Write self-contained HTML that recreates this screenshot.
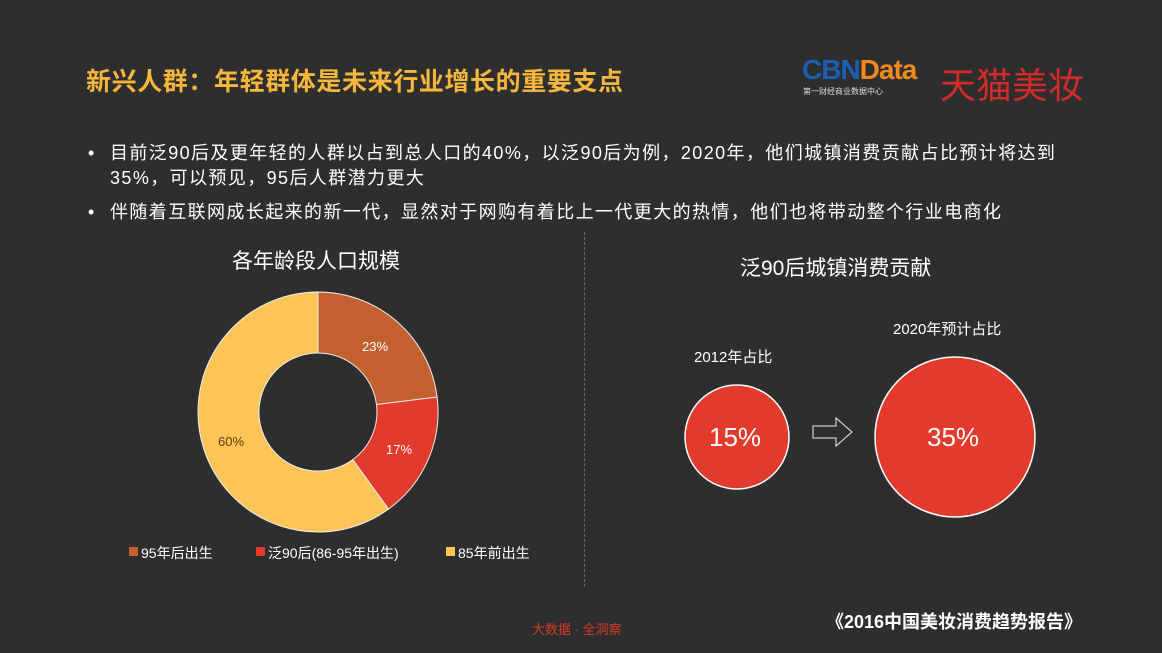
<!DOCTYPE html>
<html><head><meta charset="utf-8"><style>
body{margin:0;width:1162px;height:653px;background:#2e2e2e;font-family:"Liberation Sans","Noto Sans CJK SC",sans-serif;position:relative;overflow:hidden;color:#fff}
.a{position:absolute;white-space:nowrap}
</style></head><body>
<div class="a" style="left:86px;top:62px;font-size:25px;font-weight:bold;color:#f6b73c;letter-spacing:0.6px">新兴人群：年轻群体是未来行业增长的重要支点</div>
<div class="a" style="left:802px;top:54px;font-size:28px;font-weight:bold;letter-spacing:-1px"><span style="color:#1a5fb4">CBN</span><span style="color:#f08a1c">Data</span></div>
<div class="a" style="left:803px;top:86px;font-size:8px;color:#ddd">第一财经商业数据中心</div>
<div class="a" style="left:940px;top:57px;font-size:36px;color:#d42a2a">天猫美妆</div>
<div class="a" style="left:88px;top:141px;font-size:18px;line-height:25px;color:#fff">•</div>
<div class="a" style="left:110px;top:141px;font-size:18px;line-height:25px;letter-spacing:1.4px">目前泛90后及更年轻的人群以占到总人口的40%，以泛90后为例，2020年，他们城镇消费贡献占比预计将达到<br>35%，可以预见，95后人群潜力更大</div>
<div class="a" style="left:88px;top:200px;font-size:18px;line-height:25px">•</div>
<div class="a" style="left:110px;top:200px;font-size:18px;line-height:25px;letter-spacing:1.4px">伴随着互联网成长起来的新一代，显然对于网购有着比上一代更大的热情，他们也将带动整个行业电商化</div>
<div class="a" style="left:232px;top:245px;font-size:21px">各年龄段人口规模</div>
<div class="a" style="left:740px;top:252px;font-size:21px">泛90后城镇消费贡献</div>
<div style="position:absolute;left:584px;top:232px;height:355px;border-left:1px dashed #666"></div>
<svg class="a" style="left:0;top:0" width="1162" height="653">
<path d="M318 292 A120 120 0 0 1 437.1 397 L376.5 404.6 A59 59 0 0 0 318 353 Z" fill="#c45f30" stroke="#eee" stroke-width="1"/>
<path d="M437.1 397 A120 120 0 0 1 388.5 509.1 L352.7 459.7 A59 59 0 0 0 376.5 404.6 Z" fill="#e23a2c" stroke="#eee" stroke-width="1"/>
<path d="M388.5 509.1 A120 120 0 1 1 318 292 L318 353 A59 59 0 1 0 352.7 459.7 Z" fill="#fdc457" stroke="#eee" stroke-width="1"/>
<text x="362" y="351" fill="#fff" font-size="13" font-family="Liberation Sans">23%</text>
<text x="386" y="454" fill="#fff" font-size="13" font-family="Liberation Sans">17%</text>
<text x="218" y="446" fill="#5a3a10" font-size="13" font-family="Liberation Sans">60%</text>
<circle cx="737" cy="437" r="52" fill="#e23a2c" stroke="#fff" stroke-width="1.5"/>
<circle cx="955" cy="437" r="80" fill="#e23a2c" stroke="#fff" stroke-width="1.5"/>
<path d="M813 426 L836 426 L836 418 L852 432 L836 446 L836 438 L813 438 Z" fill="none" stroke="#ccc" stroke-width="1.2"/>
<rect x="129" y="547" width="9" height="9" fill="#c45f30"/>
<rect x="256" y="547" width="9" height="9" fill="#e23a2c"/>
<rect x="446" y="547" width="9" height="9" fill="#fdc457"/>
</svg>
<div class="a" style="left:141px;top:543px;font-size:14px">95年后出生</div>
<div class="a" style="left:268px;top:543px;font-size:14px">泛90后(86-95年出生)</div>
<div class="a" style="left:458px;top:543px;font-size:14px">85年前出生</div>
<div class="a" style="left:694px;top:346px;font-size:15px">2012年占比</div>
<div class="a" style="left:893px;top:318px;font-size:15px">2020年预计占比</div>
<div class="a" style="left:709px;top:422px;font-size:26px">15%</div>
<div class="a" style="left:927px;top:422px;font-size:26px">35%</div>
<div class="a" style="left:532px;top:619px;font-size:13px;color:#d43a2a">大数据 · 全洞察</div>
<div class="a" style="left:826px;top:608px;font-size:18px;font-weight:bold">《2016中国美妆消费趋势报告》</div>
</body></html>
